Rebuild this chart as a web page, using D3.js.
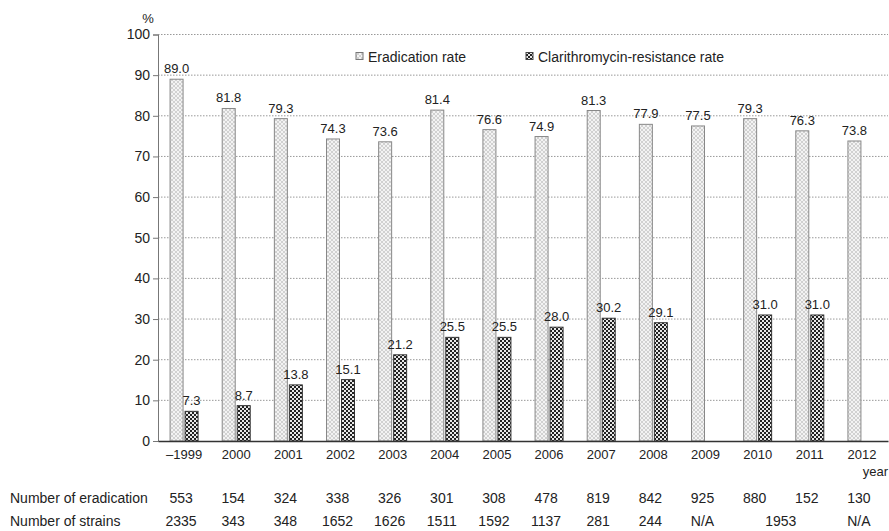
<!DOCTYPE html>
<html><head><meta charset="utf-8">
<script src="https://cdn.jsdelivr.net/npm/d3@7"></script>
<style>
body{margin:0;background:#fff;}
text{font-family:"Liberation Sans",Arial,sans-serif;fill:#222;}
</style></head>
<body><svg id="c" width="889" height="531"></svg>
<script>
const years = ["\u20131999","2000","2001","2002","2003","2004","2005","2006","2007","2008","2009","2010","2011","2012"];
const eradicationRate = [89.0,81.8,79.3,74.3,73.6,81.4,76.6,74.9,81.3,77.9,77.5,79.3,76.3,73.8];
const resistanceRate = [7.3,8.7,13.8,15.1,21.2,25.5,25.5,28.0,30.2,29.1,null,31.0,31.0,null];
const numEradication = ["553","154","324","338","326","301","308","478","819","842","925","880","152","130"];
const numStrains = ["2335","343","348","1652","1626","1511","1592","1137","281","244","N/A",null,null,"N/A"];
const mergedStrains = {value:"1953", from:11, to:12};
const yTicks = [0,10,20,30,40,50,60,70,80,90,100];

const svg = d3.select("#c");
const defs = svg.append("defs");
const p1 = defs.append("pattern").attr("id","pErad").attr("patternUnits","userSpaceOnUse").attr("width",4).attr("height",4);
p1.append("rect").attr("width",4).attr("height",4).attr("fill","#f3f3f3");
p1.append("path").attr("d","M0,0L4,4M4,0L0,4").attr("stroke","#c8c8c8").attr("stroke-width",0.8);
const p2 = defs.append("pattern").attr("id","pRes").attr("patternUnits","userSpaceOnUse").attr("width",4).attr("height",4);
p2.append("rect").attr("width",4).attr("height",4).attr("fill","#e8e8e8");
p2.append("rect").attr("width",2).attr("height",2).attr("fill","#222");
p2.append("rect").attr("x",2).attr("y",2).attr("width",2).attr("height",2).attr("fill","#222");

const mLeft=158, mRight=888, mTop=34.5, mBottom=441;
const x = d3.scaleBand().domain(years).range([mLeft,mRight]);
const y = d3.scaleLinear().domain([0,100]).range([mBottom,mTop]);
const cx = d=>x(d)+x.bandwidth()/2;

svg.append("g").selectAll("line").data(yTicks.filter(d=>d>0)).join("line")
  .attr("x1",mLeft).attr("x2",mRight).attr("y1",d=>y(d)).attr("y2",d=>y(d))
  .attr("stroke","#999").attr("stroke-dasharray","1.5,1.5").attr("stroke-width",1);

const ya = svg.append("g").attr("transform",`translate(${mLeft},0)`)
  .call(d3.axisLeft(y).tickValues(yTicks).tickSize(5).tickPadding(3).tickFormat(d3.format("d")));
ya.select(".domain").attr("stroke","#777");
ya.selectAll(".tick line").attr("stroke","#777");
ya.selectAll("text").attr("font-size",14).attr("fill","#222").attr("font-family","Liberation Sans, Arial");
svg.append("text").attr("x",148).attr("y",23).attr("font-size",13).attr("text-anchor","middle").text("%");

const bw = 13;
svg.append("g").selectAll("rect").data(years).join("rect")
  .attr("x",d=>cx(d)-bw-1).attr("width",bw)
  .attr("y",(d,i)=>y(eradicationRate[i])).attr("height",(d,i)=>mBottom-y(eradicationRate[i]))
  .attr("fill","url(#pErad)").attr("stroke","#888").attr("stroke-width",1);
svg.append("g").selectAll("text").data(years).join("text")
  .attr("x",d=>cx(d)-bw/2-1).attr("y",(d,i)=>y(eradicationRate[i])-6)
  .attr("text-anchor","middle").attr("font-size",13).text((d,i)=>eradicationRate[i].toFixed(1));
const resIdx = years.map((d,i)=>i).filter(i=>resistanceRate[i]!=null);
svg.append("g").selectAll("rect").data(resIdx).join("rect")
  .attr("x",i=>cx(years[i])+1).attr("width",bw)
  .attr("y",i=>y(resistanceRate[i])).attr("height",i=>mBottom-y(resistanceRate[i]))
  .attr("fill","url(#pRes)").attr("stroke","#333").attr("stroke-width",1);
svg.append("g").selectAll("text").data(resIdx).join("text")
  .attr("x",i=>cx(years[i])+1+bw/2).attr("y",i=>y(resistanceRate[i])-6)
  .attr("text-anchor","middle").attr("font-size",13).text(i=>resistanceRate[i].toFixed(1));

const xa = svg.append("g").attr("transform",`translate(0,${mBottom})`)
  .call(d3.axisBottom(x).tickSize(0).tickPadding(9));
xa.select(".domain").attr("stroke","#333").attr("stroke-width",1.5);
xa.selectAll("text").attr("font-size",13).attr("fill","#222").attr("font-family","Liberation Sans, Arial");
svg.append("text").attr("x",888).attr("y",476).attr("text-anchor","end").attr("font-size",13).text("year");

const lg = svg.append("g");
lg.append("rect").attr("x",356).attr("y",52.5).attr("width",7).attr("height",7).attr("fill","url(#pErad)").attr("stroke","#777");
lg.append("text").attr("x",368).attr("y",62).attr("font-size",14).text("Eradication rate");
lg.append("rect").attr("x",526).attr("y",52.5).attr("width",7).attr("height",7).attr("fill","url(#pRes)").attr("stroke","#444");
lg.append("text").attr("x",538).attr("y",62).attr("font-size",14).text("Clarithromycin-resistance rate");

svg.append("text").attr("x",10).attr("y",503).attr("font-size",14).text("Number of eradication");
svg.append("text").attr("x",10).attr("y",526).attr("font-size",14).text("Number of strains");
svg.append("g").selectAll("text").data(years).join("text")
  .attr("x",d=>cx(d)-3).attr("y",503).attr("text-anchor","middle").attr("font-size",14).text((d,i)=>numEradication[i]);
svg.append("g").selectAll("text").data(years.filter((d,i)=>numStrains[i]!=null)).join("text")
  .attr("x",d=>cx(d)-3).attr("y",526).attr("text-anchor","middle").attr("font-size",14).text(d=>numStrains[years.indexOf(d)]);
svg.append("text").attr("x",(cx(years[mergedStrains.from])+cx(years[mergedStrains.to]))/2-3).attr("y",526)
  .attr("text-anchor","middle").attr("font-size",14).text(mergedStrains.value);
</script></body></html>
